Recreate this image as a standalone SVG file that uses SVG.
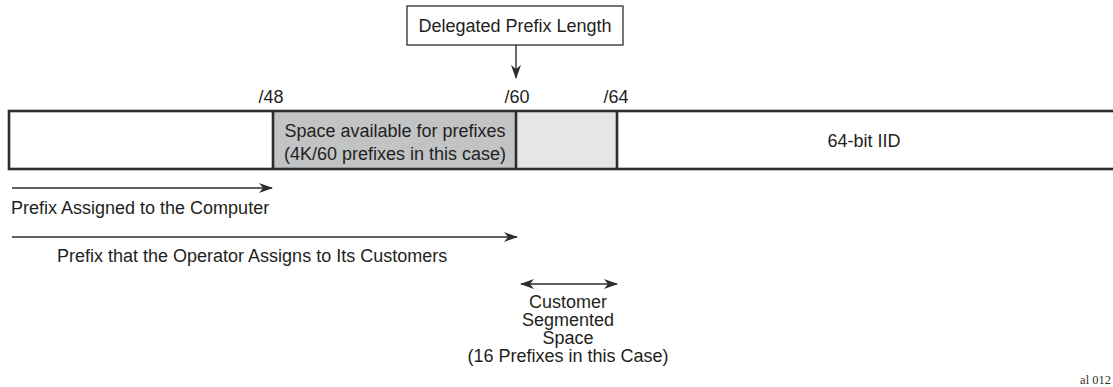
<svg xmlns="http://www.w3.org/2000/svg" width="1113" height="387" viewBox="0 0 1113 387">
<defs>
<style>
.t{font-family:"Liberation Sans",Arial,sans-serif;font-size:18px;fill:#231f20}
.c{text-anchor:middle}
.bar{stroke:#2d2d2d;stroke-width:2.6}
.ln{stroke:#2d2d2d;stroke-width:1.4;fill:none}
</style>
<marker id="ah" markerWidth="14" markerHeight="10" refX="13" refY="5" orient="auto-start-reverse" markerUnits="userSpaceOnUse">
<path d="M0,0 L14,5 L0,10 L4,5 Z" fill="#2d2d2d"/>
</marker>
</defs>
<rect width="1113" height="387" fill="#fff"/>

<g id="delegated">
<rect x="407" y="6" width="216" height="39" fill="#fff" stroke="#2d2d2d" stroke-width="1.3"/>
<text class="t c" x="515" y="32">Delegated Prefix Length</text>
</g>

<g id="labels">
<text class="t c" x="271" y="103">/48</text>
<text class="t c" x="517" y="103">/60</text>
<text class="t c" x="616" y="103">/64</text>
</g>

<g id="bar">
<rect x="273" y="111" width="243" height="58" fill="#c1c3c5"/>
<rect x="516" y="111" width="101" height="58" fill="#e6e6e6"/>
<rect class="bar" x="9" y="111" width="1110" height="58" fill="none"/>
<line class="bar" x1="273" y1="111" x2="273" y2="169"/>
<line class="bar" x1="516" y1="111" x2="516" y2="169"/>
<line class="bar" x1="617" y1="111" x2="617" y2="169"/>
</g>

<g id="space">
<text class="t c" x="395" y="137">Space available for prefixes</text>
<text class="t c" x="395" y="160">(4K/60 prefixes in this case)</text>
</g>

<g id="iid">
<text class="t c" x="864" y="147">64-bit IID</text>
</g>

<g id="connectors">
<line class="ln" x1="516" y1="45" x2="516" y2="78" marker-end="url(#ah)"/>
<line class="ln" x1="12" y1="188" x2="272" y2="188" marker-end="url(#ah)"/>
<line class="ln" x1="12" y1="237" x2="517" y2="237" marker-end="url(#ah)"/>
<line class="ln" x1="521" y1="284" x2="617" y2="284" marker-start="url(#ah)" marker-end="url(#ah)"/>
</g>

<g id="computer">
<text class="t" x="11" y="214">Prefix Assigned to the Computer</text>
</g>

<g id="operator">
<text class="t" x="57" y="262">Prefix that the Operator Assigns to Its Customers</text>
</g>

<g id="customer">
<text class="t c" x="568" y="308">Customer</text>
<text class="t c" x="568" y="326">Segmented</text>
<text class="t c" x="568" y="344">Space</text>
<text class="t c" x="568" y="362">(16 Prefixes in this Case)</text>
</g>

<text x="1111" y="384" text-anchor="end" font-family="Liberation Serif,serif" font-size="12.5" fill="#333">al 012</text>
</svg>
